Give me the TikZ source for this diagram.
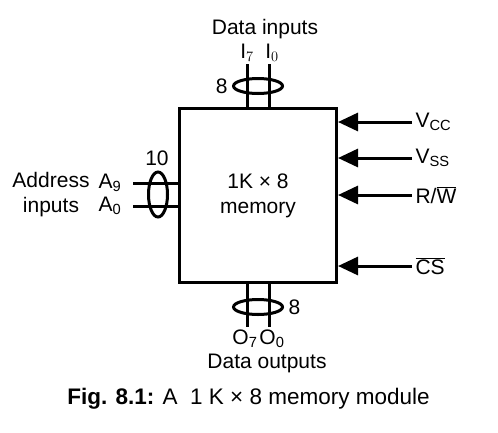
\documentclass[tikz,border=0pt]{standalone}
\usepackage{fontspec}
\setmainfont{Liberation Sans}
\usetikzlibrary{shapes.geometric,arrows.meta,positioning}

\begin{document}
\begin{tikzpicture}[x=1pt,y=-1pt,font=\fontsize{21}{25}\selectfont,
    bus/.style={line width=3pt},
    ring/.style={ellipse,draw,line width=3pt,inner sep=0pt},
    pin/.style={line width=3pt,-{Triangle[length=20pt,width=18pt]}}]
          \useasboundingbox (0,0) rectangle (498,432);
          \node[draw,line width=3pt,minimum width=157pt,minimum height=174pt,align=center] (mem) at (258,195.5) {1K × 8\\memory};
          % data inputs
          \coordinate (i7) at (247,64);
          \coordinate (i0) at (269,64);
          \draw[bus] (i7) -- (i7 |- mem.north);
          \draw[bus] (i0) -- (i0 |- mem.north);
          \node[ring,minimum width=49pt,minimum height=15pt] (inring) at (258,86) {};
          \node[left=1pt of inring] (inn) {8};
          \node (i7lab) at (247,53) {$\mathrm{I}_7$};
          \node (i0lab) at (272,53) {$\mathrm{I}_0$};
          \node (inlab) at (265,29) {Data inputs};
          % address inputs
          \coordinate (a9) at (133,183);
          \coordinate (a0) at (133,206);
          \draw[bus] (a9) -- (a9 -| mem.west);
          \draw[bus] (a0) -- (a0 -| mem.west);
          \node[ring,minimum width=19pt,minimum height=45pt] (adring) at (158,194.5) {};
          \node (adn) at (157,158) {10};
          \node (a9lab) at (110,183) {A\textsubscript{9}};
          \node (a0lab) at (110,206) {A\textsubscript{0}};
          \node[align=center] (adlab) at (51,194.5) {Address\\inputs};
          % control pins
          \coordinate (vcc) at (412,122);
          \coordinate (vss) at (412,158);
          \coordinate (rw) at (412,195);
          \coordinate (cs) at (412,266);
          \draw[pin] (vcc) -- (vcc -| mem.east);
          \draw[pin] (vss) -- (vss -| mem.east);
          \draw[pin] (rw) -- (rw -| mem.east);
          \draw[pin] (cs) -- (cs -| mem.east);
          \node[right=0pt of vcc] (vcclab) {V\textsubscript{CC}};
          \node[right=0pt of vss] (vsslab) {V\textsubscript{SS}};
          \node[right=0pt of rw] (rwlab) {R/$\overline{\mbox{W}}$};
          \node[right=0pt of cs] (cslab) {$\overline{\mbox{CS}}$};
          % data outputs
          \coordinate (o7) at (247,327);
          \coordinate (o0) at (269,327);
          \draw[bus] (o7 |- mem.south) -- (o7);
          \draw[bus] (o0 |- mem.south) -- (o0);
          \node[ring,minimum width=49pt,minimum height=15pt] (outring) at (258,307) {};
          \node[right=1pt of outring] (outn) {8};
          \node (o7lab) at (245,339) {O\textsubscript{7}};
          \node (o0lab) at (272,339) {O\textsubscript{0}};
          \node (outlab) at (267,363) {Data outputs};
          % caption
          \node[font=\fontsize{22.5}{26}\selectfont] (fig) at (248.5,399) {\textbf{Fig. 8.1:} A \ 1 K × 8 memory module};
    \end{tikzpicture}
\end{document}
